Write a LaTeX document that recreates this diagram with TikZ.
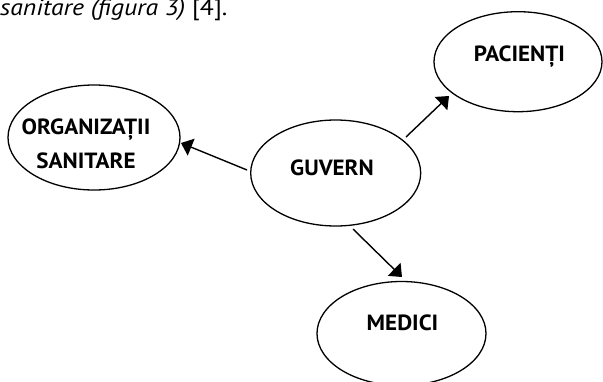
\documentclass[tikz,border=0pt]{standalone}
\usepackage{fontspec}
\setmainfont{PT Sans}
\usetikzlibrary{shapes.geometric,arrows.meta}
\begin{document}
\begin{tikzpicture}[x=1pt,y=-1pt,
  oval/.style={draw,ellipse,line width=1.3pt,inner sep=0pt},
  lbl/.style={font=\bfseries\fontsize{22}{26}\selectfont\addfontfeature{FakeStretch=1.05},anchor=base,inner sep=0pt},
  conn/.style={line width=1.4pt,-{Triangle[length=11pt,width=18pt]}}]
\useasboundingbox (0,0) rectangle (603,381);
\clip (0,0) rectangle (603,381);
\fill[white] (0,0) rectangle (603,381);
% caption fragment
\node[anchor=base west,inner sep=0pt,font=\fontsize{23}{27}\selectfont\addfontfeature{FakeStretch=1.12}] (cap) at (0,15) {\itshape sanitare (figura 3)\upshape{} [4].};
% ellipses
\node[oval,minimum width=172pt,minimum height=105pt] (org) at (94,137.5) {};
\node[oval,minimum width=170pt,minimum height=106pt] (guv) at (335.7,173) {};
\node[oval,minimum width=168pt,minimum height=100pt] (pac) at (518,61.7) {};
\node[oval,minimum width=169pt,minimum height=104pt] (med) at (401.5,333.5) {};
% labels
\node[lbl] (orgt1) at (86,134) {ORGANIZAȚII};
\node[lbl] (orgt2) at (86,168) {SANITARE};
\node[lbl] (guvt) at (332,175) {GUVERN};
\node[lbl] (pact) at (519.5,61.7) {PACIENȚI};
\node[lbl] (medt) at (402.5,330) {MEDICI};
% connector ends
\coordinate (g1) at (247,170);
\coordinate (o1) at (181,143);
\coordinate (g2) at (406,137);
\coordinate (p1) at (449,96);
\coordinate (g3) at (353,229);
\coordinate (m1) at (402,277);
\draw[conn] (g1) -- (o1);
\draw[conn] (g2) -- (p1);
\draw[conn] (g3) -- (m1);
\end{tikzpicture}
\end{document}
